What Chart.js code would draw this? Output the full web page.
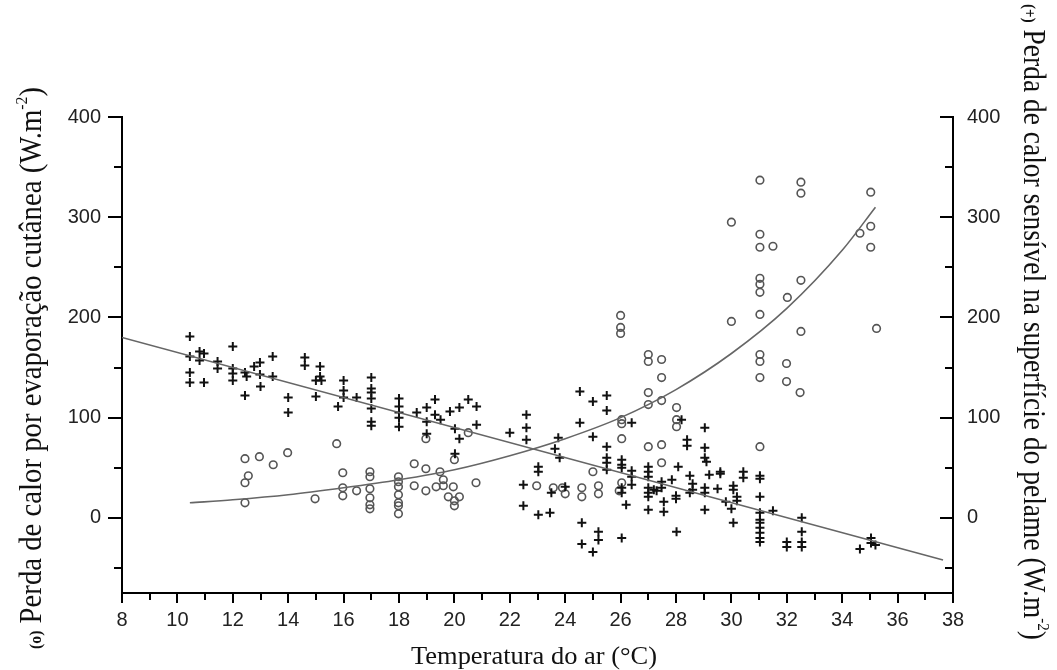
<!DOCTYPE html>
<html>
<head>
<meta charset="utf-8">
<script src="https://cdn.jsdelivr.net/npm/chart.js@4.4.0/dist/chart.umd.min.js"></script>
<style>
  html, body { margin: 0; padding: 0; background: #fff; }
  #wrap { width: 1057px; height: 670px; }
</style>
</head>
<body>
<div id="wrap"><canvas id="myChart" width="1057" height="670"></canvas></div>
<script>
// (+) perda de calor sensível na superfície do pelame
const sensivelTemp = [10.45,10.45,10.8,10.96,10.8,10.45,10.45,10.96,11.45,11.45,12.0,12.0,12.0,12.0,12.44,12.5,12.44,12.77,12.98,12.98,13.0,13.44,13.44,14.0,14.0,14.6,14.6,15.0,15.15,15.15,15.0,15.2,15.8,16.0,16.0,16.0,16.47,17.0,17.0,17.0,17.0,17.0,17.0,17.0,18.0,18.0,18.0,18.0,18.0,18.64,19.0,19.3,19.0,19.3,19.5,19.84,20.18,20.5,20.8,20.8,20.02,20.18,19.0,20.02,22.0,22.6,22.6,22.6,23.75,23.63,23.8,23.03,23.03,22.49,22.49,23.03,23.45,23.5,24.0,24.53,25.0,25.5,25.5,24.53,25.0,25.5,25.5,25.5,25.5,24.6,25.2,25.2,24.6,25.0,26.4,26.04,26.04,26.04,26.4,26.4,26.4,26.2,26.04,26.04,26.04,27.0,27.0,27.0,27.0,27.0,27.0,27.2,27.48,27.48,27.3,27.56,27.56,27.0,27.85,28.0,28.0,28.02,28.08,28.2,28.4,28.4,28.5,28.6,28.6,29.04,29.04,29.04,29.1,29.2,29.04,29.04,29.04,28.5,29.6,29.6,29.5,29.8,30.07,30.07,30.0,30.07,30.43,30.43,30.2,30.2,31.03,31.03,31.03,31.03,31.03,31.03,31.03,31.03,31.03,31.03,31.5,32.0,32.0,32.54,32.54,32.54,32.54,34.64,35.04,35.04,35.2];
const sensivelPerda = [181,161,166,164,157,145,135,135,156,149,171,149,144,137,145,141,122,151,155,143,131,161,141,120,105,160,152,121,151,141,137,137,111,137,127,120,120,140,129,125,119,109,96,92,119,111,105,100,91,105,110,118,96,103,98,106,110,118,111,93,89,79,84,64,85,103,90,78,80,69,60,51,46,33,12,3,5,25,31,126,116,122,107,95,81,71,60,55,48,-5,-14,-22,-26,-34,95,58,53,50,47,41,33,13,-20,30,25,51,46,41,30,25,21,28,36,30,27,16,6,8,38,22,19,-14,51,98,78,72,42,34,28,90,70,60,56,43,30,25,8,25,46,44,29,16,32,28,9,-5,46,40,21,17,42,39,21,5,-2,-5,-10,-15,-20,-24,7,-24,-29,0,-14,-24,-29,-31,-20,-25,-27];

// (o) perda de calor por evaporação cutânea
const evapTemp = [12.44,12.96,13.46,13.98,12.56,12.44,12.44,14.97,15.75,15.97,15.97,15.97,16.47,16.95,16.95,16.95,16.95,16.95,16.95,17.98,17.98,17.98,17.98,17.98,17.98,17.98,18.55,18.55,18.97,18.97,19.48,19.34,19.6,19.6,19.96,19.78,20.18,20.0,20.0,20.0,18.97,20.5,20.78,22.97,23.57,23.9,24.0,24.6,24.6,25.2,25.2,25.0,26.0,26.0,26.0,27.0,27.0,27.48,27.48,27.0,27.0,27.48,28.02,26.04,26.04,28.02,28.02,26.04,27.0,27.48,27.48,26.04,25.95,31.03,31.03,31.99,31.03,31.99,32.48,31.03,30.0,32.51,31.03,32.51,32.51,35.03,30.0,31.03,31.03,31.5,34.64,35.03,35.03,31.03,31.03,31.03,32.51,32.02,31.03,35.24];
const evapPerda = [59,61,53,65,42,35,15,19,74,45,30,22,27,46,41,29,20,13,9,41,36,31,23,15,12,4,54,32,49,27,46,31,38,32,31,21,21,17,12,58,79,85,35,32,30,30,24,30,21,32,24,46,202,190,184,163,156,158,140,125,113,117,110,98,94,98,91,79,71,73,55,35,27,163,156,154,140,136,125,71,196,186,337,335,324,325,295,283,270,271,284,291,270,239,233,225,237,220,203,189];

// linhas de tendência
const tendEvapTemp = [10.45,12,14,16,18,20,22,24,26,28,30,32,34,35.2];
const tendEvapPerda = [15,18,23,30,38,48,62,79,100,128,164,209,267,310];
const tendSensTemp = [8,37.64];
const tendSensPerda = [180,-42];

// eixos
const xTicks = [8,10,12,14,16,18,20,22,24,26,28,30,32,34,36,38];
const yTicks = [0,100,200,300,400];

const toPoints = (xs, ys) => xs.map((x, i) => ({ x: x, y: ys[i] }));

const serif = '"Liberation Serif", "Times New Roman", serif';

function drawRich(ctx, parts, base, cx, cy, angle, targetLen) {
    let total = 0;
    parts.forEach(p => {
        const size = base * (p.s || 1);
        ctx.font = (p.bold ? 'bold ' : '') + size + 'px ' + serif;
        p.w = ctx.measureText(p.t).width;
        total += p.w;
    });
    ctx.save();
    ctx.translate(cx, cy);
    ctx.rotate(angle);
    ctx.scale(targetLen / total, 1);
    ctx.textBaseline = 'alphabetic';
    ctx.textAlign = 'left';
    ctx.fillStyle = '#111';
    let x = -total / 2;
    parts.forEach(p => {
        const size = base * (p.s || 1);
        ctx.font = (p.bold ? 'bold ' : '') + size + 'px ' + serif;
        ctx.fillText(p.t, x, base * 0.33 + base * (p.dy || 0));
        x += p.w;
    });
    ctx.restore();
}

const axisDecor = {
    id: 'axisDecor',
    afterDraw(chart) {
        const ctx = chart.ctx;
        const area = chart.chartArea;
        const xs = chart.scales.x;
        const yl = chart.scales.y;
        ctx.save();
        ctx.strokeStyle = '#000';
        ctx.lineWidth = 2;
        ctx.beginPath();
        for (let v = -50; v <= 400; v += 50) {
            const py = Math.round(yl.getPixelForValue(v));
            const major = yTicks.includes(v);
            ctx.moveTo(area.left - (major ? 14 : 8), py);
            ctx.lineTo(area.left, py);
            ctx.moveTo(area.right - (major ? 13 : 8), py);
            ctx.lineTo(area.right, py);
        }
        for (let v = 8; v <= 38; v++) {
            const px = Math.round(xs.getPixelForValue(v));
            ctx.moveTo(px, area.bottom);
            ctx.lineTo(px, area.bottom + (xTicks.includes(v) ? 10 : 7));
        }
        ctx.stroke();
        ctx.restore();

        drawRich(ctx, [{ t: 'Temperatura do ar (°C)' }], 26, 534, 655, 0, 246);
        drawRich(ctx, [
            { t: '(o)', s: 0.55, bold: true },
            { t: ' Perda de calor por evaporação cutânea (W.m' },
            { t: '-2', s: 0.55, dy: -0.42 },
            { t: ')' }
        ], 32, 30, 368, -Math.PI / 2, 562);
        drawRich(ctx, [
            { t: '(+)', s: 0.55, bold: true },
            { t: ' Perda de calor sensível na superfície do pelame (W.m' },
            { t: '-2', s: 0.55, dy: -0.42 },
            { t: ')' }
        ], 32, 1035, 322, Math.PI / 2, 636);
    }
};

const tickFont = { family: '"Liberation Sans", Arial, sans-serif', size: 20 };

const ctx = document.getElementById('myChart');
new Chart(ctx, {
    data: {
        datasets: [
            {
                type: 'line',
                data: toPoints(tendSensTemp, tendSensPerda),
                yAxisID: 'y2',
                borderColor: '#666',
                borderWidth: 1.6,
                pointRadius: 0
            },
            {
                type: 'line',
                data: toPoints(tendEvapTemp, tendEvapPerda),
                yAxisID: 'y',
                borderColor: '#666',
                borderWidth: 1.6,
                pointRadius: 0,
                cubicInterpolationMode: 'monotone'
            },
            {
                type: 'scatter',
                data: toPoints(sensivelTemp, sensivelPerda),
                yAxisID: 'y2',
                pointStyle: 'cross',
                pointRadius: 4.5,
                borderColor: '#111',
                borderWidth: 2
            },
            {
                type: 'scatter',
                data: toPoints(evapTemp, evapPerda),
                yAxisID: 'y',
                pointStyle: 'circle',
                pointRadius: 3.8,
                borderColor: '#555',
                borderWidth: 1.6,
                backgroundColor: 'rgba(255,255,255,0)'
            }
        ]
    },
    options: {
        responsive: false,
        animation: false,
        devicePixelRatio: 1,
        layout: { padding: { top: 117, left: 0, right: 0, bottom: 0 } },
        plugins: { legend: { display: false }, tooltip: { enabled: false } },
        scales: {
            x: {
                type: 'linear',
                min: 8,
                max: 38,
                afterFit: s => { s.height = 77; },
                afterBuildTicks: s => { s.ticks = xTicks.map(v => ({ value: v })); },
                grid: { display: true, drawOnChartArea: false, drawTicks: false },
                border: { display: true, color: '#000', width: 2 },
                ticks: { autoSkip: false, maxRotation: 0, padding: 15, color: '#222', font: tickFont }
            },
            y: {
                type: 'linear',
                position: 'left',
                min: -75,
                max: 400,
                afterFit: s => { s.width = 122; },
                afterBuildTicks: s => { s.ticks = yTicks.map(v => ({ value: v })); },
                grid: { display: true, drawOnChartArea: false, drawTicks: false },
                border: { display: true, color: '#000', width: 2 },
                ticks: { padding: 21, color: '#222', font: tickFont }
            },
            y2: {
                type: 'linear',
                position: 'right',
                min: -75,
                max: 400,
                afterFit: s => { s.width = 104; },
                afterBuildTicks: s => { s.ticks = yTicks.map(v => ({ value: v })); },
                grid: { display: true, drawOnChartArea: false, drawTicks: false },
                border: { display: true, color: '#000', width: 2 },
                ticks: { padding: 14, color: '#222', font: tickFont }
            }
        }
    },
    plugins: [axisDecor]
});
</script>
</body>
</html>
